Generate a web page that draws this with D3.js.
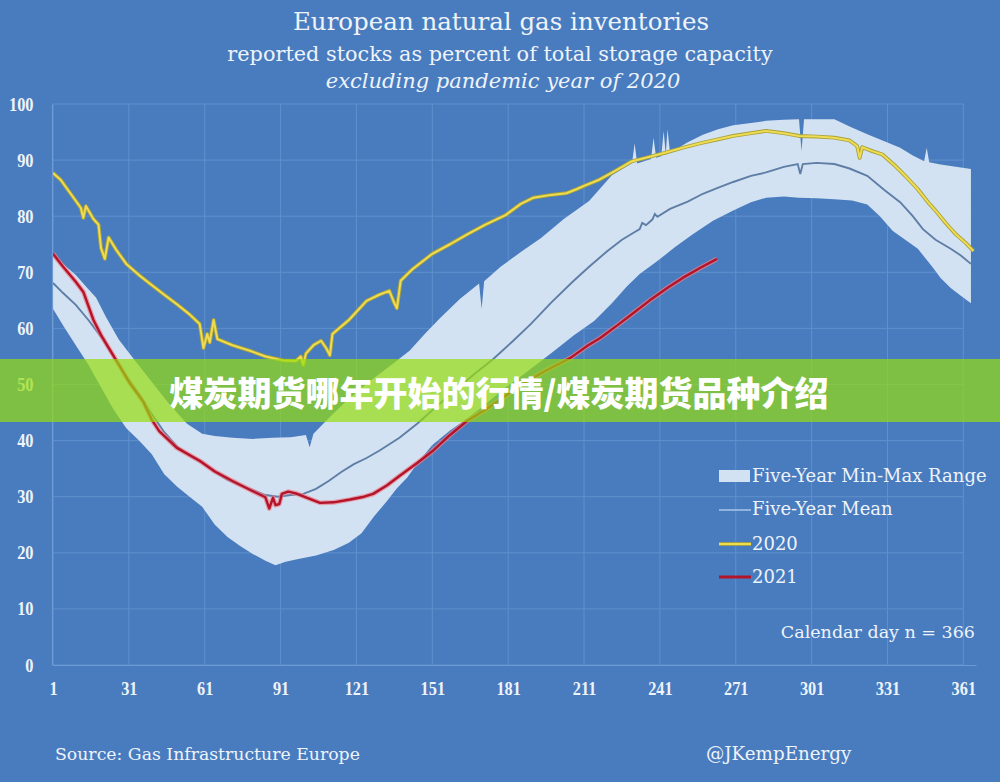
<!DOCTYPE html>
<html>
<head>
<meta charset="utf-8">
<script src="https://cdn.jsdelivr.net/npm/d3@7"></script>
<style>
  body { margin: 0; background: #497cbe; }
  svg { display: block; }
</style>
</head>
<body>
<div id="chart"></div>
<script>
// axis ticks
var xTicks = [1, 31, 61, 91, 121, 151, 181, 211, 241, 271, 301, 331, 361];
var yTicks = [0, 10, 20, 30, 40, 50, 60, 70, 80, 90, 100];

// five-year max (top of the range)
var maxDays = [1, 5, 10, 15, 18, 22, 27, 33, 40, 47, 54, 60, 65, 72, 80, 88, 95, 101, 102.5, 104, 110, 118, 126, 134, 142, 148, 154, 162, 169.5, 170.5, 171.5, 178, 186, 194, 203, 213, 222, 230, 231, 232, 237.5, 238.5, 239.5, 241.5, 242.5, 243.3, 244, 245, 252, 258, 264, 270, 277, 283, 290, 296, 297, 298, 303, 310, 316, 323, 330, 336, 341, 345.5, 346.5, 347.5, 352, 358, 364];
var maxVals = [73.3, 71.5, 69.5, 67, 65.5, 62, 58, 54.5, 50.5, 46.5, 43, 41.2, 40.8, 40.5, 40.3, 40.5, 40.6, 41, 38.8, 41.2, 44, 47.5, 50.5, 53.2, 56, 59, 61.8, 65.3, 68, 63.5, 68.4, 71, 73.6, 76.1, 79.5, 82.7, 87.3, 89.5, 93, 89.4, 90.2, 94, 90.4, 90.7, 95.2, 91, 95.5, 91.3, 93.2, 94.5, 95.5, 96.2, 96.6, 97, 97.2, 97.3, 91.6, 97.3, 97.3, 97.3, 96, 94.6, 93.3, 92.2, 90.8, 89.8, 92.2, 89.6, 89.2, 88.8, 88.4];

// five-year min (bottom of the range)
var minDays = [1, 5, 10, 15, 20, 25, 30, 35, 40, 45, 50, 55, 60, 65, 70, 75, 80, 85, 89, 93, 98, 105, 112, 118, 123, 128, 133, 137, 141, 146, 151, 158, 165, 172, 180, 187, 194, 200, 207, 215, 222, 228, 233, 240, 247, 254, 262, 270, 277, 283, 290, 296, 303, 310, 317, 323, 328, 333, 338, 343, 346, 349, 352, 356, 360, 364];
var minVals = [63.5, 60.5, 57, 53.5, 49.5, 45.5, 42.2, 40, 37.6, 34, 31.8, 30, 28.2, 25, 22.8, 21.2, 19.8, 18.6, 17.8, 18.4, 18.9, 19.5, 20.5, 21.8, 23.5, 26.5, 29.2, 31.5, 33.4, 36.5, 39.2, 41.8, 44, 46.5, 49.5, 51.8, 54.2, 56.3, 58.8, 61.3, 64.5, 67.5, 69.7, 72, 74.5, 76.8, 79.2, 81, 82.5, 83.3, 83.5, 83.3, 83.2, 83, 82.8, 82.1, 80, 77.4, 75.8, 74.2, 72.5, 70.8, 69, 67.2, 65.8, 64.5];

// five-year mean
var meanDays = [1, 5, 10, 15, 20, 25, 30, 35, 40, 45, 50, 55, 60, 65, 70, 75, 80, 85, 90, 95, 100, 105, 110, 115, 120, 125, 130, 138, 145, 151, 160, 168, 175, 183, 190, 198, 206.7, 213, 220, 226, 230.4, 233, 234, 235.5, 238, 239, 240, 245, 252, 258, 263.6, 270, 277, 283, 290, 295.5, 296.5, 297.5, 303, 310, 316, 323, 330, 336, 341, 345, 350, 356, 360, 364];
var meanVals = [68.1, 66.3, 64.2, 61.5, 58.5, 55, 51.5, 48.3, 44.8, 41.5, 39, 37.3, 36, 34.4, 33, 32, 31.2, 30.3, 30, 30.3, 30.5, 31.4, 32.8, 34.4, 35.8, 36.9, 38.2, 40.5, 43, 45.4, 49, 52, 54.5, 57.8, 60.8, 64.6, 68.4, 71, 73.7, 75.8, 77, 77.7, 78.8, 78.4, 79.4, 80.4, 79.9, 81.3, 82.6, 84, 85, 86.1, 87.2, 87.8, 88.8, 89.3, 87.5, 89.3, 89.5, 89.3, 88.5, 87.2, 84.6, 82.5, 80, 77.7, 75.8, 74.2, 73, 71.5];

// 2020
var days2020 = [1, 4, 8, 12, 13, 14, 17, 19, 20, 21.5, 23, 26, 30, 35, 39.5, 45, 50, 55, 59, 60.5, 62, 63, 64.5, 66, 72, 79, 85, 92, 97, 99, 100, 101, 104, 107, 109, 110.5, 111.5, 118, 125, 130, 134, 136, 137, 138.5, 143, 151, 158, 165, 172, 180, 186, 191, 198, 204, 208, 211, 217, 223, 230, 237, 243, 250, 257, 264, 270, 277, 283, 290, 296, 303, 310, 316, 319, 320, 321, 325, 329, 334, 338, 343, 347, 350, 354, 358, 362, 365];
var vals2020 = [87.7, 86.5, 84, 81.5, 79.7, 81.8, 79.5, 78.5, 74.3, 72.4, 76.2, 74, 71.5, 69.5, 67.9, 66, 64.3, 62.5, 60.8, 56.5, 59, 57.5, 61.5, 58.1, 57, 56, 55, 54.3, 54.2, 55, 53.5, 55.5, 57, 57.8, 56.5, 55.2, 59, 61.5, 64.9, 66, 66.7, 64.5, 63.6, 68.5, 70.5, 73.3, 75, 76.8, 78.5, 80.2, 82.2, 83.3, 83.8, 84.1, 84.8, 85.4, 86.5, 88, 89.8, 90.6, 91.3, 92.2, 93, 93.7, 94.3, 94.8, 95.2, 94.8, 94.3, 94.2, 94, 93.5, 92.5, 90.4, 92.3, 91.6, 91, 89, 87.2, 84.8, 82.5, 81, 78.8, 76.8, 75.2, 73.8];

// 2021
var days2021 = [1, 5, 10, 13, 17, 20, 26, 31, 36.6, 40, 43, 50, 59, 65, 72, 79, 85, 86.5, 88, 89, 90.5, 91.5, 94, 97, 101.5, 106.6, 112, 118.5, 124, 127.6, 133, 138, 145, 151, 158, 164.7, 172, 180, 188, 196, 205.5, 212, 217.4, 224, 230.4, 237, 243.9, 250, 257, 263.6];
var vals2021 = [73.3, 71, 68.3, 66.5, 61.5, 58.8, 54.3, 50.5, 47, 43.8, 41.7, 38.7, 36.4, 34.5, 32.8, 31.2, 29.9, 27.9, 29.8, 28.5, 28.7, 30.5, 30.9, 30.6, 29.8, 28.9, 29, 29.5, 30, 30.5, 32, 33.7, 36, 38.1, 41, 43.5, 45.5, 48, 50.5, 52.5, 54.7, 56.8, 58.3, 60.5, 62.7, 65, 67.2, 69, 70.8, 72.4];

var width = 1000, height = 782;
var bg = "#497cbe";
var textColor = "#eef3fa";

var svg = d3.select("#chart").append("svg")
    .attr("width", width)
    .attr("height", height);

svg.append("rect")
    .attr("width", width)
    .attr("height", height)
    .attr("fill", bg);

var x = d3.scaleLinear().domain([1, 366]).range([53, 976]);
var y = d3.scaleLinear().domain([0, 100]).range([665, 104]);

// grid
svg.append("g").selectAll("line")
    .data(xTicks)
    .join("line")
    .attr("x1", d => x(d)).attr("x2", d => x(d))
    .attr("y1", y(0)).attr("y2", y(100))
    .attr("stroke", "#6090cd")
    .attr("stroke-width", 1);

svg.append("g").selectAll("line")
    .data(yTicks)
    .join("line")
    .attr("x1", x(1)).attr("x2", x(361))
    .attr("y1", d => y(d)).attr("y2", d => y(d))
    .attr("stroke", "#6090cd")
    .attr("stroke-width", 1);

var line = d3.line()
    .x(d => x(d[0]))
    .y(d => y(d[1]));

// min-max range as one closed shape
var upper = d3.zip(maxDays, maxVals);
var lower = d3.zip(minDays, minVals).reverse();
svg.append("path")
    .attr("d", line(upper.concat(lower)) + "Z")
    .attr("fill", "#d3e2f2");

svg.append("path")
    .datum(d3.zip(meanDays, meanVals))
    .attr("fill", "none")
    .attr("stroke", "#5e7ea6")
    .attr("stroke-width", 1.9)
    .attr("d", line);

// 2020, olive edge under a yellow core
var data2020 = d3.zip(days2020, vals2020);
svg.append("path")
    .datum(data2020)
    .attr("fill", "none")
    .attr("stroke", "#a7a23a")
    .attr("stroke-width", 3.8)
    .attr("stroke-linejoin", "round")
    .attr("d", line);
svg.append("path")
    .datum(data2020)
    .attr("fill", "none")
    .attr("stroke", "#f0dc52")
    .attr("stroke-width", 2)
    .attr("stroke-linejoin", "round")
    .attr("d", line);

// 2021, pink glow under a red core
var data2021 = d3.zip(days2021, vals2021);
svg.append("path")
    .datum(data2021)
    .attr("fill", "none")
    .attr("stroke", "#ec7f8a")
    .attr("stroke-width", 4.8)
    .attr("stroke-opacity", 0.7)
    .attr("stroke-linejoin", "round")
    .attr("d", line);
svg.append("path")
    .datum(data2021)
    .attr("fill", "none")
    .attr("stroke", "#b3142a")
    .attr("stroke-width", 2.4)
    .attr("stroke-linejoin", "round")
    .attr("d", line);

// axes
var xAxis = svg.append("g")
    .attr("transform", `translate(0,${y(0)})`)
    .call(d3.axisBottom(x).tickValues(xTicks).tickSize(0).tickSizeOuter(0).tickPadding(17));
var yAxis = svg.append("g")
    .attr("transform", `translate(${x(1) - 1},0)`)
    .call(d3.axisLeft(y).tickValues(yTicks).tickSize(0).tickSizeOuter(0).tickPadding(21.5));

[xAxis, yAxis].forEach(function (a) {
    a.select(".domain").attr("stroke", "#6f9bd4").attr("stroke-width", 1.2);
    a.selectAll("text")
        .attr("fill", textColor)
        .style("font-family", "Liberation Serif, serif")
        .style("font-size", "19px")
        .style("font-weight", "bold")
        .attr("transform", "scale(0.86,1)");
});

// titles
var serif = "DejaVu Serif, serif";
svg.append("text")
    .attr("x", 501).attr("y", 30)
    .attr("text-anchor", "middle")
    .attr("fill", textColor)
    .style("font-family", serif)
    .style("font-size", "24.5px")
    .text("European natural gas inventories");
svg.append("text")
    .attr("x", 500).attr("y", 61)
    .attr("text-anchor", "middle")
    .attr("fill", textColor)
    .style("font-family", serif)
    .style("font-size", "20.8px")
    .text("reported stocks as percent of  total storage capacity");
svg.append("text")
    .attr("x", 503).attr("y", 88)
    .attr("text-anchor", "middle")
    .attr("fill", textColor)
    .style("font-family", serif)
    .style("font-style", "italic")
    .style("font-size", "21px")
    .text("excluding pandemic year of 2020");

// legend
var legend = svg.append("g").attr("transform", "translate(719,0)");
legend.append("rect")
    .attr("x", 0).attr("y", 470)
    .attr("width", 31).attr("height", 12)
    .attr("fill", "#d3e2f2");
legend.append("line")
    .attr("x1", 0).attr("x2", 32).attr("y1", 510).attr("y2", 510)
    .attr("stroke", "#a9c6ea").attr("stroke-width", 1.5);
legend.append("line")
    .attr("x1", 0).attr("x2", 32).attr("y1", 544).attr("y2", 544)
    .attr("stroke", "#a7a23a").attr("stroke-width", 3.8);
legend.append("line")
    .attr("x1", 0).attr("x2", 32).attr("y1", 544).attr("y2", 544)
    .attr("stroke", "#f0dc52").attr("stroke-width", 2);
legend.append("line")
    .attr("x1", 0).attr("x2", 32).attr("y1", 577).attr("y2", 577)
    .attr("stroke", "#b3142a").attr("stroke-width", 3);

var legendItems = [["Five-Year Min-Max Range", 482], ["Five-Year Mean", 515], ["2020", 550], ["2021", 583]];
legend.selectAll(".leg")
    .data(legendItems)
    .join("text")
    .attr("class", "leg")
    .attr("x", 33)
    .attr("y", d => d[1])
    .attr("fill", textColor)
    .style("font-family", serif)
    .style("font-size", "18px")
    .text(d => d[0]);

svg.append("text")
    .attr("x", 975).attr("y", 638)
    .attr("text-anchor", "end")
    .attr("fill", textColor)
    .style("font-family", serif)
    .style("font-size", "17.5px")
    .text("Calendar day n = 366");

// footer
svg.append("text")
    .attr("x", 55).attr("y", 760)
    .attr("fill", textColor)
    .style("font-family", serif)
    .style("font-size", "17.3px")
    .text("Source: Gas Infrastructure Europe");
svg.append("text")
    .attr("x", 706).attr("y", 760)
    .attr("fill", textColor)
    .style("font-family", serif)
    .style("font-size", "18.3px")
    .text("@JKempEnergy");

// green banner on top
svg.append("rect")
    .attr("x", 0).attr("y", 359)
    .attr("width", width).attr("height", 63)
    .attr("fill", "rgb(150,221,14)")
    .attr("fill-opacity", 0.7);
svg.append("text")
    .attr("x", 499).attr("y", 391)
    .attr("text-anchor", "middle")
    .attr("dominant-baseline", "central")
    .attr("fill", "#ffffff")
    .style("font-family", "Noto Sans CJK SC, sans-serif")
    .style("font-weight", "900")
    .style("font-size", "34px")
    .text("煤炭期货哪年开始的行情/煤炭期货品种介绍");
</script>
</body>
</html>
